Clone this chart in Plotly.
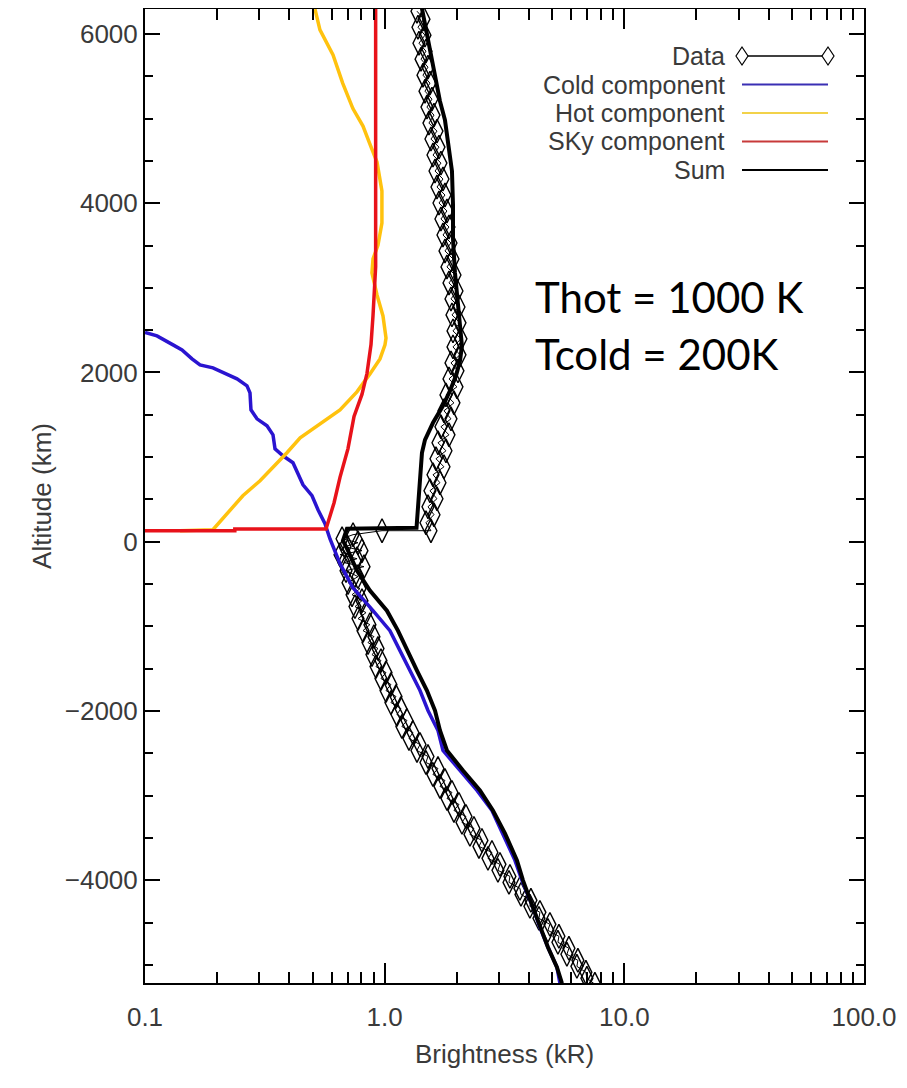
import plotly.graph_objects as go

# ---------------- data ----------------
# Data (observations): brightness (kR) and altitude (km)
data_x = [1.364, 1.459, 1.377, 1.473, 1.390, 1.487, 1.418, 1.516, 1.445, 1.545,
          1.473, 1.575, 1.501, 1.606, 1.530, 1.653, 1.560, 1.685, 1.591, 1.717,
          1.622, 1.751, 1.653, 1.785, 1.685, 1.819, 1.717, 1.855, 1.751, 1.891,
          1.785, 1.928, 1.819, 1.965, 1.855, 2.003, 1.891, 2.042, 1.909, 2.062,
          1.928, 2.081, 1.928, 2.062, 1.891, 2.022, 1.855, 2.003, 1.802, 1.946,
          1.768, 1.891, 1.717, 1.855, 1.669, 1.802, 1.637, 1.768, 1.591, 1.701,
          1.545, 1.653, 1.516, 1.606, 1.487, 1.560, 0.975, 0.738,
          0.664, 0.774, 0.683, 0.804, 0.651, 0.767, 0.677, 0.820, 0.690, 0.774,
          0.703, 0.789, 0.731, 0.804, 0.752, 0.836, 0.774, 0.868, 0.812, 0.902,
          0.852, 0.938, 0.885, 0.965, 0.920, 1.013, 0.965, 1.062, 1.013, 1.115,
          1.062, 1.169, 1.125, 1.239, 1.180, 1.312, 1.263, 1.404, 1.364, 1.516,
          1.487, 1.669, 1.590, 1.785, 1.701, 1.909, 1.820, 2.042, 1.946, 2.184,
          2.102, 2.358, 2.269, 2.546, 2.474, 2.803, 2.698, 3.027, 2.969, 3.332,
          3.301, 3.668, 3.704, 4.076, 4.037, 4.444, 4.402, 4.892, 4.799, 5.334,
          5.283, 5.872, 5.760, 6.401, 6.340, 6.912, 6.979, 7.537]
data_alt = [6269, 6175, 6080, 5986, 5891, 5797, 5702, 5608, 5513, 5419,
            5324, 5230, 5136, 5041, 4947, 4852, 4758, 4663, 4569, 4474,
            4380, 4286, 4191, 4097, 4002, 3908, 3813, 3719, 3624, 3530,
            3436, 3341, 3247, 3152, 3058, 2963, 2869, 2774, 2680, 2586,
            2491, 2397, 2302, 2208, 2113, 2019, 1924, 1830, 1735, 1641,
            1547, 1452, 1358, 1263, 1169, 1074, 980, 885, 791, 697,
            602, 508, 413, 319, 224, 130, 130, 83,
            35, -12, -59, -106, -153, -201, -248, -295, -342, -413,
            -484, -555, -626, -697, -767, -838, -909, -980, -1051, -1122,
            -1192, -1263, -1334, -1405, -1476, -1547, -1617, -1688, -1759, -1830,
            -1901, -1972, -2042, -2113, -2184, -2255, -2326, -2397, -2467, -2538,
            -2609, -2680, -2751, -2822, -2892, -2963, -3034, -3105, -3176, -3247,
            -3317, -3388, -3459, -3530, -3601, -3672, -3742, -3813, -3884, -3955,
            -4026, -4097, -4168, -4238, -4309, -4380, -4451, -4522, -4593, -4663,
            -4734, -4805, -4876, -4947, -5018, -5088, -5159, -5230]

# Cold component
cold_x = [0.100, 0.1122, 0.1309, 0.1427, 0.1571, 0.1696, 0.1921, 0.2198, 0.2420, 0.2664,
          0.2742, 0.2768, 0.2933, 0.3228, 0.3420, 0.3487, 0.3765, 0.4144, 0.4348, 0.4563,
          0.4975, 0.5270, 0.5636, 0.591, 0.651, 0.737, 0.894, 1.052, 1.158, 1.275,
          1.404, 1.516, 1.669, 1.751, 2.062, 2.428, 2.803, 3.115, 3.496, 3.740,
          4.156, 4.444, 4.800, 5.233, 5.385]
cold_alt = [2473, 2432, 2326, 2267, 2160, 2090, 2054, 1983, 1924, 1842,
            1759, 1558, 1452, 1370, 1263, 1098, 1015, 933, 803, 673,
            543, 378, 213, 35, -260, -543, -815, -1051, -1287, -1523,
            -1759, -1995, -2231, -2467, -2704, -2940, -3176, -3447, -3766, -4002,
            -4321, -4557, -4793, -5029, -5218]

# Hot component
hot_x = [0.512, 0.537, 0.609, 0.668, 0.737, 0.812, 0.868, 0.929, 0.974, 0.974,
         0.938, 0.894, 0.885, 0.929, 0.984, 1.013, 1.003, 0.956, 0.868, 0.766,
         0.651, 0.537, 0.444, 0.391, 0.342, 0.302, 0.256, 0.220, 0.192, 0.140]
hot_alt = [6293, 6048, 5752, 5419, 5118, 4911, 4699, 4486, 4144, 3766,
           3506, 3341, 3176, 2916, 2668, 2408, 2326, 2160, 1983, 1771,
           1558, 1393, 1228, 1051, 885, 720, 543, 331, 142, 130]

# Sky component
sky_x = [0.917, 0.917, 0.894, 0.877, 0.844, 0.804, 0.745, 0.703, 0.651, 0.615,
         0.569, 0.237, 0.237, 0.100]
sky_alt = [6300, 3250, 2670, 2330, 1990, 1740, 1480, 1100, 760, 460,
           150, 150, 130, 130]

# Sum
sum_x = [1.431, 1.501, 1.591, 1.701, 1.785, 1.855, 1.909, 1.928, 1.928, 1.965,
         2.022, 2.081, 2.101, 2.062, 1.984, 1.873, 1.751, 1.591, 1.473, 1.431,
         1.404, 1.377, 1.358, 0.696, 0.670, 0.703, 0.766, 0.868, 1.022, 1.136,
         1.239, 1.364, 1.501, 1.622, 1.701, 1.819, 2.122, 2.498, 2.830, 3.176,
         3.564, 3.776, 4.156, 4.444, 4.800, 5.233, 5.493]
sum_alt = [6300, 5986, 5584, 5206, 4982, 4616, 4380, 3979, 3577, 3176,
           2774, 2491, 2314, 2137, 1960, 1783, 1606, 1405, 1204, 1051,
           767, 449, 165, 153, 12, -106, -342, -578, -815, -1051,
           -1287, -1523, -1759, -1995, -2231, -2467, -2704, -2940, -3176, -3447,
           -3766, -4002, -4321, -4557, -4793, -5029, -5218]

x_tickvals = [0.1, 1, 10, 100]
x_ticktext = ["0.1", "1.0", "10.0", "100.0"]
x_minor = [m * d for d in (0.1, 1, 10) for m in range(2, 10)]
y_tickvals = [-4000, -2000, 0, 2000, 4000, 6000]
y_ticktext = ["\u22124000", "\u22122000", "0", "2000", "4000", "6000"]

legend_labels = ["Data", "Cold component", "Hot component", "SKy component", "Sum"]
legend_colors = ["#000000", "#3a2fb4", "#f2d24a", "#c83a3a", "#000000"]

annot_lines = ["Thot = 1000 K", "Tcold = 200K"]

# ---------------- styles ----------------
COLD = "#2a14d0"
HOT = "#ffc20e"
SKY = "#e8121a"
TXT = "#3a3a3a"
FONT = "Liberation Sans"

fig = go.Figure()
fig.add_trace(go.Scatter(x=data_x, y=data_alt, mode="lines+markers",
                         line=dict(color="black", width=1),
                         marker=dict(symbol="diamond-tall-open", size=17,
                                     color="black", line=dict(width=1.4)),
                         showlegend=False))
fig.add_trace(go.Scatter(x=cold_x, y=cold_alt, mode="lines",
                         line=dict(color=COLD, width=3.5), showlegend=False))
fig.add_trace(go.Scatter(x=hot_x, y=hot_alt, mode="lines",
                         line=dict(color=HOT, width=3.5), showlegend=False))
fig.add_trace(go.Scatter(x=sky_x, y=sky_alt, mode="lines",
                         line=dict(color=SKY, width=3.5), showlegend=False))
fig.add_trace(go.Scatter(x=sum_x, y=sum_alt, mode="lines",
                         line=dict(color="black", width=4), showlegend=False))

# ---------------- layout geometry (page has an 8px body offset) ----------------
OFF = 8
FW, FH = 907 - OFF, 1088 - OFF
L, R, T, B = 145 - OFF, 864 - OFF, 9 - OFF, 983 - OFF   # plot box in figure pixels
W, H = R - L, B - T
def px(xp):   # reference page pixel -> paper x
    return (xp - OFF - L) / W
def py(yp):   # reference page pixel -> paper y
    return (B - (yp - OFF)) / H

rows = [56, 84.5, 113, 141.5, 170]
shapes = []
annotations = []
for lab, col, yr in zip(legend_labels, legend_colors, rows):
    annotations.append(dict(xref="paper", yref="paper", x=px(727), y=py(yr),
                            xanchor="right", yanchor="middle", showarrow=False,
                            text=lab, font=dict(family=FONT, size=25, color=TXT)))
    shapes.append(dict(type="line", xref="paper", yref="paper",
                       x0=px(742), x1=px(828), y0=py(yr), y1=py(yr),
                       line=dict(color=col, width=1.6 if lab == "Data" else 2)))
for xe in (742, 828):
    shapes.append(dict(type="path", xref="paper", yref="paper",
                       xsizemode="pixel", ysizemode="pixel",
                       xanchor=px(xe), yanchor=py(rows[0]),
                       path="M0,9 L6,0 L0,-9 L-6,0 Z",
                       fillcolor="white", line=dict(color="black", width=1.2)))

for txt, yc in zip(annot_lines, (297, 354)):
    annotations.append(dict(xref="paper", yref="paper", x=px(533), y=py(yc),
                            xanchor="left", yanchor="middle", showarrow=False,
                            text=txt, font=dict(family="Lato", size=42, color="black")))

fig.update_layout(
    width=FW, height=FH,
    margin=dict(l=L, r=FW - R, t=T, b=FH - B, autoexpand=False),
    plot_bgcolor="white", paper_bgcolor="white",
    shapes=shapes, annotations=annotations,
    font=dict(family=FONT, size=25, color=TXT),
)
fig.update_xaxes(type="log", range=[-1, 2], showgrid=False, zeroline=False,
                 showline=True, linecolor="black", linewidth=2, mirror="ticks",
                 ticks="inside", ticklen=20, tickwidth=1.5, tickcolor="black",
                 tickvals=x_tickvals, ticktext=x_ticktext,
                 ticklabelstandoff=10,
                 tickfont=dict(family=FONT, size=26, color=TXT),
                 minor=dict(ticks="inside", ticklen=11, tickwidth=1.5,
                            tickcolor="black", tickvals=x_minor, showgrid=False),
                 title=dict(text="Brightness (kR)", standoff=14,
                            font=dict(family=FONT, size=26, color=TXT)))
fig.update_yaxes(range=[-5215, 6295], showgrid=False, zeroline=False,
                 showline=True, linecolor="black", linewidth=2, mirror="ticks",
                 ticks="inside", ticklen=15, tickwidth=1.5, tickcolor="black",
                 tickvals=y_tickvals, ticktext=y_ticktext,
                 ticklabelstandoff=0,
                 tickfont=dict(family=FONT, size=26, color=TXT),
                 minor=dict(ticks="inside", ticklen=8, tickwidth=1.5,
                            tickcolor="black", dtick=500, showgrid=False),
                 title=dict(text="Altitude (km)", standoff=6,
                            font=dict(family=FONT, size=26, color=TXT)))

fig.write_html("out.html")
